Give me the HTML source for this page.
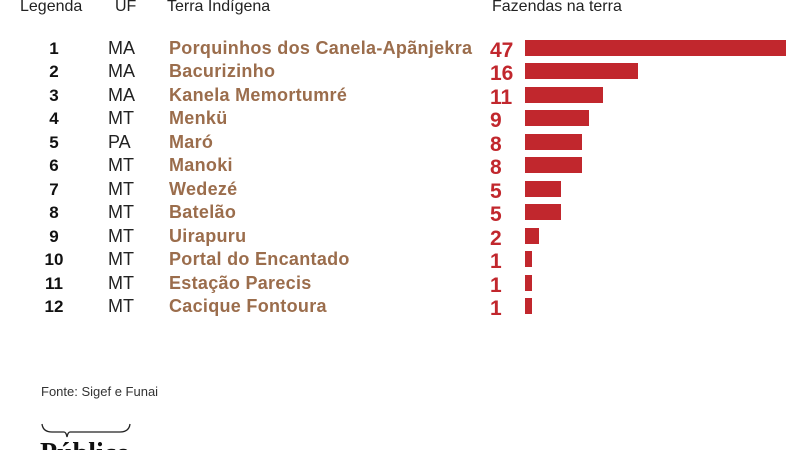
<!DOCTYPE html><html><head><style>
body{margin:0;width:800px;height:450px;background:#fff;position:relative;overflow:hidden;font-family:"Liberation Sans",sans-serif}
.t{position:absolute;white-space:nowrap;line-height:1}
.h{font-size:16px;color:#222;top:-1px}
.n{font-size:17px;font-weight:bold;color:#111;width:40px;text-align:center;left:34px}
.u{font-size:18px;color:#222;left:108px}
.nm{font-size:18px;font-weight:bold;color:#9b6d4c;left:169px;letter-spacing:0.3px}
.v{font-size:21px;font-weight:bold;color:#c1272d;left:490px}
.b{position:absolute;left:525px;height:16px;background:#c1272d}
</style></head><body>
<div class="t h" style="left:20px">Legenda</div>
<div class="t h" style="left:115px">UF</div>
<div class="t h" style="left:167px">Terra Indígena</div>
<div class="t h" style="left:492px">Fazendas na terra</div>
<div id="rows"></div>
<div class="t" style="left:41px;top:385px;font-size:13px;color:#333">Fonte: Sigef e Funai</div>
<svg style="position:absolute;left:40px;top:422px" width="100" height="28"><path d="M2 2 Q3 10 12 10 L24 10 Q26 10 27 15 Q28 10 30 10 L80 10 Q89 10 90 2" fill="none" stroke="#222" stroke-width="1.3"/><text x="0" y="40" font-family="Liberation Serif" font-size="28" font-weight="bold" fill="#111">Público</text></svg>
<script>
var d=[[1,"MA","Porquinhos dos Canela-Apãnjekra",47,261],[2,"MA","Bacurizinho",16,113],[3,"MA","Kanela Memortumré",11,78],[4,"MT","Menkü",9,64],[5,"PA","Maró",8,57],[6,"MT","Manoki",8,57],[7,"MT","Wedezé",5,36],[8,"MT","Batelão",5,36],[9,"MT","Uirapuru",2,14],[10,"MT","Portal do Encantado",1,7],[11,"MT","Estação Parecis",1,7],[12,"MT","Cacique Fontoura",1,7]];
var h="";d.forEach(function(r,i){var c=48+i*23.45;
h+='<div class="t n" style="top:'+(c-8)+'px">'+r[0]+'</div><div class="t u" style="top:'+(c-9)+'px">'+r[1]+'</div><div class="t nm" style="top:'+(c-9)+'px">'+r[2]+'</div><div class="t v" style="top:'+(c-8)+'px">'+r[3]+'</div><div class="b" style="top:'+(c-8)+'px;width:'+r[4]+'px"></div>';});
document.getElementById("rows").innerHTML=h;
</script>
</body></html>
